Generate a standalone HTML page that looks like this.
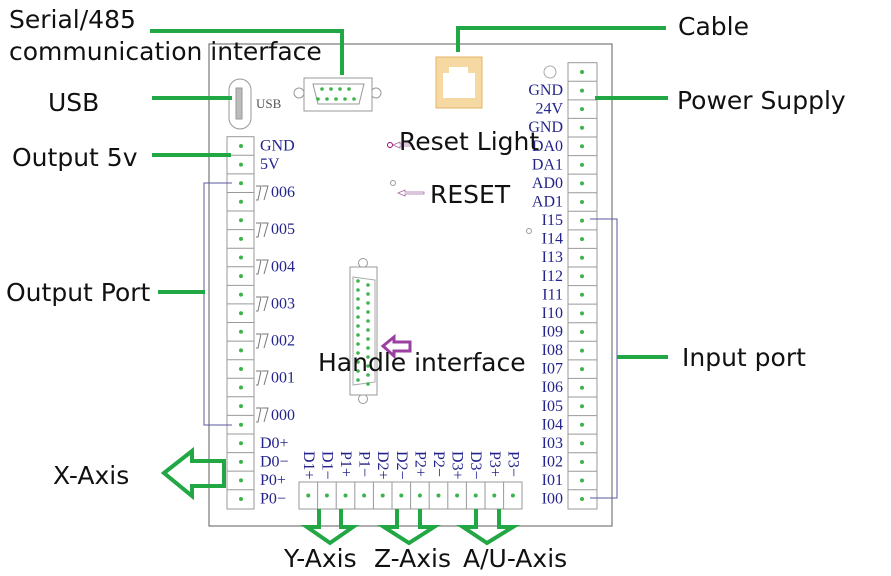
<!DOCTYPE html>
<html><head><meta charset="utf-8"><style>
html,body{margin:0;padding:0;background:#fff;}
svg{display:block}
.lb{font-family:"DejaVu Sans","Liberation Sans",sans-serif;font-size:25px;fill:#111;}
.pn{font-family:"Liberation Serif",serif;font-size:16px;fill:#23238c;}
.g{stroke:#22a745;stroke-width:4;fill:none;}
.c{fill:#fff;stroke:#999;stroke-width:1;}
.d{fill:#3cb44b;}
</style></head><body>
<svg width="891" height="576" viewBox="0 0 891 576" xmlns="http://www.w3.org/2000/svg">
<rect x="209" y="44" width="403" height="482" fill="#fff" stroke="#777" stroke-width="1.2"/>

<rect x="229" y="79" width="22" height="50" rx="11" fill="#fff" stroke="#999"/>
<rect x="236" y="88" width="6" height="31" fill="#bbb" stroke="#999"/>
<text x="256" y="108" class="pn" style="fill:#555;font-size:13px">USB</text>

<circle cx="299" cy="93" r="5" fill="#fff" stroke="#999"/>
<circle cx="376" cy="93" r="5" fill="#fff" stroke="#999"/>
<rect x="304" y="78" width="68" height="33" fill="#fff" stroke="#999"/>
<path d="M313 84 L364 84 L359 104 L318 104 Z" fill="#fff" stroke="#999"/>
<g class="d"><circle cx="322" cy="89" r="1.8"/><circle cx="331" cy="89" r="1.8"/><circle cx="340" cy="89" r="1.8"/><circle cx="349" cy="89" r="1.8"/>
<circle cx="318" cy="99" r="1.8"/><circle cx="327" cy="99" r="1.8"/><circle cx="336" cy="99" r="1.8"/><circle cx="345" cy="99" r="1.8"/><circle cx="354" cy="99" r="1.8"/></g>

<rect x="436" y="57" width="46" height="51" fill="#f6d9a2" stroke="#e2b56a"/>
<path d="M443 98 L443 73 L449 73 L449 67 L468 67 L468 73 L475 73 L475 98 Z" fill="#fff"/>

<circle cx="550" cy="72" r="6" fill="#fff" stroke="#aaa"/>

<circle cx="390" cy="145" r="2.5" fill="#fff" stroke="#a07"/>
<path d="M393 145 L400 142 L400 144 L412 144 L412 146 L400 146 L400 148 Z" fill="#fff" stroke="#a06aa0" stroke-width="0.8"/>
<circle cx="393" cy="183" r="2.5" fill="#fff" stroke="#999"/>
<path d="M398 193 L405 190 L405 192 L424 192 L424 194 L405 194 L405 196 Z" fill="#fff" stroke="#a06aa0" stroke-width="0.8"/>
<circle cx="529" cy="231" r="2.5" fill="#fff" stroke="#999"/>

<circle cx="363" cy="263" r="4.5" fill="#fff" stroke="#999"/>
<circle cx="363" cy="399" r="4.5" fill="#fff" stroke="#999"/>
<rect x="350" y="267" width="27" height="128" fill="#fff" stroke="#999"/>
<path d="M353 277 L375 280 L375 382 L353 385 Z" fill="#fff" stroke="#aaa"/>
<g class="d">
<circle cx="358" cy="281" r="1.8"/><circle cx="358" cy="290" r="1.8"/><circle cx="358" cy="299" r="1.8"/><circle cx="358" cy="308" r="1.8"/><circle cx="358" cy="317" r="1.8"/><circle cx="358" cy="326" r="1.8"/><circle cx="358" cy="335" r="1.8"/><circle cx="358" cy="344" r="1.8"/><circle cx="358" cy="353" r="1.8"/><circle cx="358" cy="362" r="1.8"/><circle cx="358" cy="371" r="1.8"/><circle cx="358" cy="380" r="1.8"/>
<circle cx="368" cy="285" r="1.8"/><circle cx="368" cy="294" r="1.8"/><circle cx="368" cy="303" r="1.8"/><circle cx="368" cy="312" r="1.8"/><circle cx="368" cy="321" r="1.8"/><circle cx="368" cy="330" r="1.8"/><circle cx="368" cy="339" r="1.8"/><circle cx="368" cy="348" r="1.8"/><circle cx="368" cy="357" r="1.8"/><circle cx="368" cy="366" r="1.8"/><circle cx="368" cy="375" r="1.8"/><circle cx="368" cy="384" r="1.8"/>
</g>
<path d="M383 346 L394 337 L394 342 L410 342 L410 351 L394 351 L394 356 Z" fill="#fff" stroke="#9b3fa3" stroke-width="3"/>

<g>
<rect class="c" x="227" y="136.7" width="27" height="372.3"/>
<g stroke="#999" stroke-width="1">
<line x1="227" x2="254" y1="155.3" y2="155.3"/><line x1="227" x2="254" y1="173.9" y2="173.9"/><line x1="227" x2="254" y1="192.5" y2="192.5"/><line x1="227" x2="254" y1="211" y2="211"/><line x1="227" x2="254" y1="229.6" y2="229.6"/><line x1="227" x2="254" y1="248.2" y2="248.2"/><line x1="227" x2="254" y1="266.8" y2="266.8"/><line x1="227" x2="254" y1="285.4" y2="285.4"/><line x1="227" x2="254" y1="303.9" y2="303.9"/><line x1="227" x2="254" y1="322.5" y2="322.5"/><line x1="227" x2="254" y1="341.1" y2="341.1"/><line x1="227" x2="254" y1="359.7" y2="359.7"/><line x1="227" x2="254" y1="378.2" y2="378.2"/><line x1="227" x2="254" y1="396.8" y2="396.8"/><line x1="227" x2="254" y1="415.4" y2="415.4"/><line x1="227" x2="254" y1="434" y2="434"/><line x1="227" x2="254" y1="452.6" y2="452.6"/><line x1="227" x2="254" y1="471.1" y2="471.1"/><line x1="227" x2="254" y1="489.7" y2="489.7"/>
</g>
<g class="d">
<circle cx="241" cy="146" r="2"/><circle cx="241" cy="164.6" r="2"/><circle cx="241" cy="183.2" r="2"/><circle cx="241" cy="201.7" r="2"/><circle cx="241" cy="220.3" r="2"/><circle cx="241" cy="238.9" r="2"/><circle cx="241" cy="257.5" r="2"/><circle cx="241" cy="276.1" r="2"/><circle cx="241" cy="294.6" r="2"/><circle cx="241" cy="313.2" r="2"/><circle cx="241" cy="331.8" r="2"/><circle cx="241" cy="350.4" r="2"/><circle cx="241" cy="369" r="2"/><circle cx="241" cy="387.5" r="2"/><circle cx="241" cy="406.1" r="2"/><circle cx="241" cy="424.7" r="2"/><circle cx="241" cy="443.3" r="2"/><circle cx="241" cy="461.9" r="2"/><circle cx="241" cy="480.4" r="2"/><circle cx="241" cy="499" r="2"/>
</g>
<g class="pn" dominant-baseline="central">
<text x="260" y="146">GND</text><text x="260" y="164.6">5V</text>
<text x="271" y="192.5">006</text><text x="271" y="229.6">005</text><text x="271" y="266.8">004</text><text x="271" y="303.9">003</text><text x="271" y="341.1">002</text><text x="271" y="378.2">001</text><text x="271" y="415.4">000</text>
<text x="260" y="443.3">D0+</text><text x="260" y="461.9">D0−</text><text x="260" y="480.4">P0+</text><text x="260" y="499">P0−</text>
</g>
<g stroke="#777" stroke-width="1" fill="none">
<path d="M256 186 L261 186 L258 200 L256 200 M262 186 L268 186 L264 200"/>
<path d="M256 223 L261 223 L258 237 L256 237 M262 223 L268 223 L264 237"/>
<path d="M256 260 L261 260 L258 274 L256 274 M262 260 L268 260 L264 274"/>
<path d="M256 297 L261 297 L258 311 L256 311 M262 297 L268 297 L264 311"/>
<path d="M256 334 L261 334 L258 348 L256 348 M262 334 L268 334 L264 348"/>
<path d="M256 371 L261 371 L258 385 L256 385 M262 371 L268 371 L264 385"/>
<path d="M256 408 L261 408 L258 422 L256 422 M262 408 L268 408 L264 422"/>
</g>
</g>

<g>
<rect class="c" x="568" y="62.7" width="29" height="446.3"/>
<g stroke="#999" stroke-width="1">
<line x1="568" x2="597" y1="81.3" y2="81.3"/><line x1="568" x2="597" y1="99.9" y2="99.9"/><line x1="568" x2="597" y1="118.4" y2="118.4"/><line x1="568" x2="597" y1="137" y2="137"/><line x1="568" x2="597" y1="155.6" y2="155.6"/><line x1="568" x2="597" y1="174.1" y2="174.1"/><line x1="568" x2="597" y1="192.7" y2="192.7"/><line x1="568" x2="597" y1="211.3" y2="211.3"/><line x1="568" x2="597" y1="229.9" y2="229.9"/><line x1="568" x2="597" y1="248.4" y2="248.4"/><line x1="568" x2="597" y1="267" y2="267"/><line x1="568" x2="597" y1="285.6" y2="285.6"/><line x1="568" x2="597" y1="304.1" y2="304.1"/><line x1="568" x2="597" y1="322.7" y2="322.7"/><line x1="568" x2="597" y1="341.3" y2="341.3"/><line x1="568" x2="597" y1="359.9" y2="359.9"/><line x1="568" x2="597" y1="378.4" y2="378.4"/><line x1="568" x2="597" y1="397" y2="397"/><line x1="568" x2="597" y1="415.6" y2="415.6"/><line x1="568" x2="597" y1="434.1" y2="434.1"/><line x1="568" x2="597" y1="452.7" y2="452.7"/><line x1="568" x2="597" y1="471.3" y2="471.3"/><line x1="568" x2="597" y1="489.8" y2="489.8"/>
</g>
<g class="d">
<circle cx="582" cy="72" r="2"/><circle cx="582" cy="90.6" r="2"/><circle cx="582" cy="109.1" r="2"/><circle cx="582" cy="127.7" r="2"/><circle cx="582" cy="146.3" r="2"/><circle cx="582" cy="164.9" r="2"/><circle cx="582" cy="183.4" r="2"/><circle cx="582" cy="202" r="2"/><circle cx="582" cy="220.6" r="2"/><circle cx="582" cy="239.1" r="2"/><circle cx="582" cy="257.7" r="2"/><circle cx="582" cy="276.3" r="2"/><circle cx="582" cy="294.8" r="2"/><circle cx="582" cy="313.4" r="2"/><circle cx="582" cy="332" r="2"/><circle cx="582" cy="350.6" r="2"/><circle cx="582" cy="369.1" r="2"/><circle cx="582" cy="387.7" r="2"/><circle cx="582" cy="406.3" r="2"/><circle cx="582" cy="424.8" r="2"/><circle cx="582" cy="443.4" r="2"/><circle cx="582" cy="462" r="2"/><circle cx="582" cy="480.5" r="2"/><circle cx="582" cy="499" r="2"/>
</g>
<g class="pn" dominant-baseline="central" text-anchor="end">
<text x="563" y="90.6">GND</text><text x="563" y="109.1">24V</text><text x="563" y="127.7">GND</text><text x="563" y="146.3">DA0</text><text x="563" y="164.9">DA1</text><text x="563" y="183.4">AD0</text><text x="563" y="202">AD1</text>
<text x="563" y="220.6">I15</text><text x="563" y="239.1">I14</text><text x="563" y="257.7">I13</text><text x="563" y="276.3">I12</text><text x="563" y="294.8">I11</text><text x="563" y="313.4">I10</text><text x="563" y="332">I09</text><text x="563" y="350.6">I08</text><text x="563" y="369.1">I07</text><text x="563" y="387.7">I06</text><text x="563" y="406.3">I05</text><text x="563" y="424.8">I04</text><text x="563" y="443.4">I03</text><text x="563" y="462">I02</text><text x="563" y="480.5">I01</text><text x="563" y="499">I00</text>
</g>
</g>

<g>
<rect class="c" x="299" y="482" width="223" height="27"/>
<g stroke="#999"><line x1="317.6" x2="317.6" y1="482" y2="509"/><line x1="336.2" x2="336.2" y1="482" y2="509"/><line x1="354.8" x2="354.8" y1="482" y2="509"/><line x1="373.4" x2="373.4" y1="482" y2="509"/><line x1="392" x2="392" y1="482" y2="509"/><line x1="410.6" x2="410.6" y1="482" y2="509"/><line x1="429.2" x2="429.2" y1="482" y2="509"/><line x1="447.8" x2="447.8" y1="482" y2="509"/><line x1="466.4" x2="466.4" y1="482" y2="509"/><line x1="485" x2="485" y1="482" y2="509"/><line x1="503.6" x2="503.6" y1="482" y2="509"/></g>
<g class="d"><circle cx="308.3" cy="495.5" r="2"/><circle cx="326.9" cy="495.5" r="2"/><circle cx="345.5" cy="495.5" r="2"/><circle cx="364.1" cy="495.5" r="2"/><circle cx="382.7" cy="495.5" r="2"/><circle cx="401.3" cy="495.5" r="2"/><circle cx="419.9" cy="495.5" r="2"/><circle cx="438.5" cy="495.5" r="2"/><circle cx="457.1" cy="495.5" r="2"/><circle cx="475.7" cy="495.5" r="2"/><circle cx="494.3" cy="495.5" r="2"/><circle cx="512.9" cy="495.5" r="2"/></g>
<g class="pn" dominant-baseline="central">
<text transform="translate(308.3,451) rotate(90)">D1+</text><text transform="translate(326.9,451) rotate(90)">D1−</text><text transform="translate(345.5,451) rotate(90)">P1+</text><text transform="translate(364.1,451) rotate(90)">P1−</text><text transform="translate(382.7,451) rotate(90)">D2+</text><text transform="translate(401.3,451) rotate(90)">D2−</text><text transform="translate(419.9,451) rotate(90)">P2+</text><text transform="translate(438.5,451) rotate(90)">P2−</text><text transform="translate(457.1,451) rotate(90)">D3+</text><text transform="translate(475.7,451) rotate(90)">D3−</text><text transform="translate(494.3,451) rotate(90)">P3+</text><text transform="translate(512.9,451) rotate(90)">P3−</text>
</g>
</g>

<path d="M232 183 L204 183 L204 425 L232 425" stroke="#5a5aa0" stroke-width="1" fill="none"/>
<path d="M590 219 L617 219 L617 498 L590 498" stroke="#5a5aa0" stroke-width="1" fill="none"/>

<path class="g" d="M150 31 L342 31 L342 75"/>
<path class="g" d="M458 52 L458 28 L666 28"/>
<path class="g" d="M152 98 L232 98"/>
<path class="g" d="M152 155 L231 155"/>
<path class="g" d="M158 292 L205 292"/>
<path class="g" d="M595 98 L668 98"/>
<path class="g" d="M617 357 L668 357"/>
<path class="g" d="M164 473 L192 451 L192 461 L224 461 L224 486 L192 486 L192 496 Z"/>
<path class="g" d="M319 509 L319 527 L307 527 L330 543 L353 527 L341 527 L341 509"/>
<path class="g" d="M397 509 L397 527 L384 527 L409 543 L434 527 L420 527 L420 509"/>
<path class="g" d="M476 509 L476 527 L463 527 L487 543 L513 527 L499 527 L499 509"/>

<g class="lb">
<text x="9" y="28">Serial/485</text>
<text x="9" y="60">communication interface</text>
<text x="48" y="111">USB</text>
<text x="12" y="166">Output 5v</text>
<text x="6" y="301">Output Port</text>
<text x="53" y="484">X-Axis</text>
<text x="678" y="35">Cable</text>
<text x="677" y="109">Power Supply</text>
<text x="682" y="366">Input port</text>
<text x="284" y="567">Y-Axis</text>
<text x="374" y="567">Z-Axis</text>
<text x="463" y="567">A/U-Axis</text>
<text x="399" y="150">Reset Light</text>
<text x="430" y="203">RESET</text>
<text x="318" y="371">Handle interface</text>
</g>
</svg>
</body></html>
